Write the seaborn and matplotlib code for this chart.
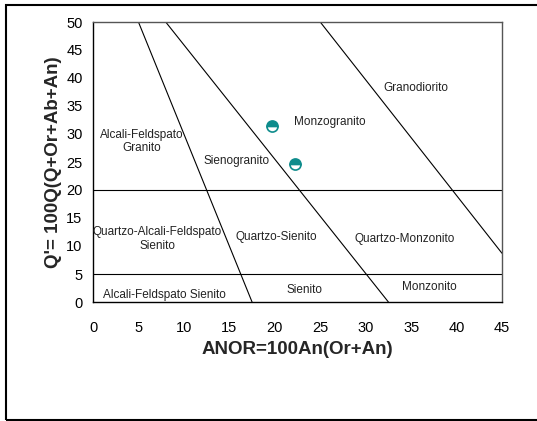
import matplotlib
matplotlib.use("Agg")
import matplotlib.pyplot as plt
import seaborn as sns
import pandas as pd
from matplotlib.patches import Rectangle

sns.set_style("white")
plt.rcParams['font.family'] = ['Liberation Sans', 'DejaVu Sans']

# Sample points
anor = [19.7, 22.2]
qprime = [31.5, 24.7]

# Boundary lines (x pairs, y pairs)
bound_x = [[5, 17.5], [8, 32.5], [25, 45], [0, 45], [0, 45]]
bound_y = [[50, 0], [50, 0], [50, 8.7], [20, 20], [5, 5]]

# Field labels
field_names = ["Granodiorito", "Monzogranito", "Alcali-Feldspato\nGranito", "Sienogranito",
               "Quartzo-Alcali-Feldspato\nSienito", "Quartzo-Sienito", "Quartzo-Monzonito",
               "Alcali-Feldspato Sienito", "Sienito", "Monzonito"]
field_x = [35.5, 26.1, 5.4, 15.8, 7.1, 20.2, 34.3, 7.9, 23.3, 37.0]
field_y = [38.2, 32.1, 28.7, 25.2, 11.25, 11.6, 11.25, 1.3, 2.2, 2.6]

xticks = [0, 5, 10, 15, 20, 25, 30, 35, 40, 45]
yticks = [0, 5, 10, 15, 20, 25, 30, 35, 40, 45, 50]

fig = plt.figure(figsize=(5.37, 4.21), dpi=100)
ax = fig.add_axes([93/537, 1-302/421, (502-93)/537, (302-22)/421])

for bx, by in zip(bound_x, bound_y):
    df = pd.DataFrame({"x": bx, "y": by})
    sns.lineplot(data=df, x="x", y="y", ax=ax, color="black", linewidth=0.8, sort=False)

ax.plot(anor, qprime, linestyle="none", marker="o", markersize=8, fillstyle="top",
        markerfacecolor="#0e8c8c", markerfacecoloralt="white", markeredgecolor="#0e8c8c",
        markeredgewidth=1.2)

for n, x, y in zip(field_names, field_x, field_y):
    ax.text(x, y, n, ha="center", va="center", fontsize=8.5, color="#222222", linespacing=1.15)

ax.set_xlim(0, 45)
ax.set_ylim(0, 50)
ax.set_xticks(xticks)
ax.set_yticks(yticks)
ax.tick_params(axis="both", direction="out", length=4, width=0.8, labelsize=10.5, colors="black")
ax.tick_params(axis="x", pad=10)
ax.set_xlabel("ANOR=100An(Or+An)", fontsize=13.5, fontweight="bold", labelpad=4)
ax.set_ylabel("Q'= 100Q(Q+Or+Ab+An)", fontsize=13.5, fontweight="bold", labelpad=3)

for side in ["left", "bottom"]:
    ax.spines[side].set_color("black")
    ax.spines[side].set_linewidth(1.0)
for side in ["top", "right"]:
    ax.spines[side].set_color("#555555")
    ax.spines[side].set_linewidth(1.0)

fig.patches.append(Rectangle((6/537, 1/421), 1.0, 1-5/421 - 1/421, transform=fig.transFigure,
                             fill=False, edgecolor="black", linewidth=1.5))

fig.savefig("out.png", dpi=100)
